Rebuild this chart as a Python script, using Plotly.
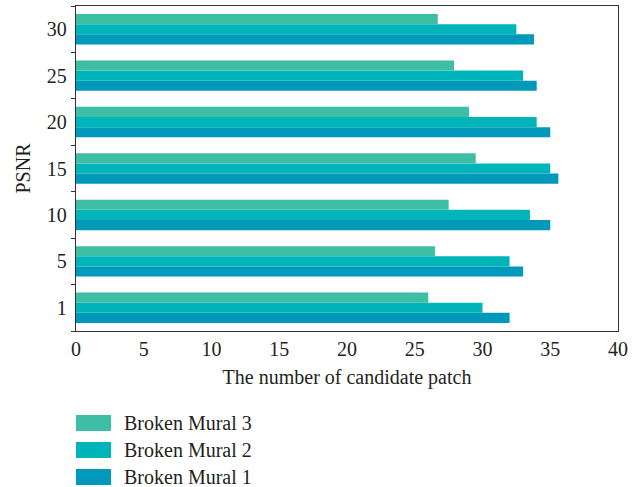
import plotly.graph_objects as go

psnr_labels = ["1", "5", "10", "15", "20", "25", "30"]
mural1 = [32.0, 33.0, 35.0, 35.6, 35.0, 34.0, 33.8]
mural2 = [30.0, 32.0, 33.5, 35.0, 34.0, 33.0, 32.5]
mural3 = [26.0, 26.5, 27.5, 29.5, 29.0, 27.9, 26.7]
series_names = ["Broken Mural 1", "Broken Mural 2", "Broken Mural 3"]
series_values = [mural1, mural2, mural3]
series_colors = ["#0099bb", "#00b5b9", "#3dbea5"]
x_ticks = [0, 5, 10, 15, 20, 25, 30, 35, 40]

FONT = "Liberation Serif"
FS = 20
TXT = "#231f20"

fig = go.Figure()
for name, vals, col in zip(series_names, series_values, series_colors):
    fig.add_trace(go.Bar(y=psnr_labels, x=vals, name=name, orientation="h",
                         marker=dict(color=col, line=dict(width=0)), showlegend=False))

# legend drawn manually to match wide swatches (top: Mural 3)
L, R, T, B = 76, 22, 6, 156
pw, ph = 640 - L - R, 487 - T - B
shapes, annos = [], []
row_y = [423, 450, 477]
for i, (name, col) in enumerate(zip(series_names[::-1], series_colors[::-1])):
    yc = row_y[i]
    shapes.append(dict(type="rect", xref="paper", yref="paper",
                       x0=(76 - L) / pw, x1=(111 - L) / pw,
                       y0=(T + ph - (yc + 8)) / ph, y1=(T + ph - (yc - 8)) / ph,
                       fillcolor=col, line=dict(width=0)))
    annos.append(dict(text=name, xref="paper", yref="paper", x=(122 - L) / pw,
                      y=(T + ph - yc) / ph, xanchor="left", yanchor="middle",
                      showarrow=False, font=dict(family=FONT, size=FS, color=TXT)))

fig.update_layout(
    width=640, height=487, barmode="group", bargap=0.345, bargroupgap=0,
    margin=dict(l=L, r=R, t=T, b=B, pad=0),
    plot_bgcolor="white", paper_bgcolor="white",
    font=dict(family=FONT, size=FS, color=TXT),
    shapes=shapes, annotations=annos,
    xaxis=dict(range=[0, 40], tickvals=x_ticks, showgrid=False, zeroline=False,
               showline=True, linecolor="#333", linewidth=1.3, mirror=True,
               ticks="", ticklabelstandoff=0,
               title=dict(text="The number of candidate patch", standoff=10,
                          font=dict(family=FONT, size=FS, color=TXT))),
    yaxis=dict(type="category", showgrid=False, zeroline=False,
               showline=True, linecolor="#333", linewidth=1.3, mirror=True,
               ticks="outside", ticklen=4, tickcolor="#333", tickson="boundaries",
               ticklabelstandoff=4,
               title=dict(text="PSNR", standoff=10,
                          font=dict(family=FONT, size=FS, color=TXT))),
)

fig.write_html("out.html", config={"displayModeBar": False},
               post_script="document.body.style.margin='0';document.body.style.overflow='hidden';")
